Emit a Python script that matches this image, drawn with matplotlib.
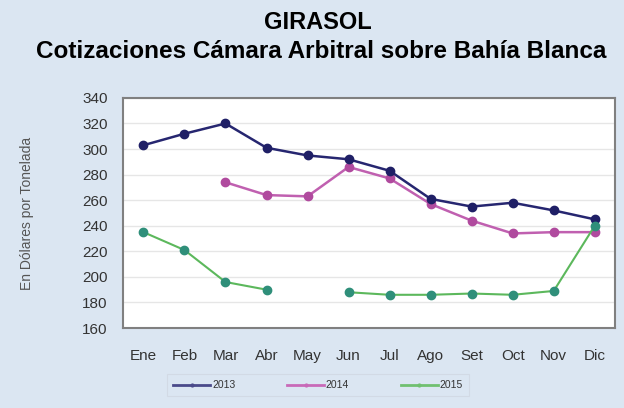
import numpy as np
import matplotlib
matplotlib.use("Agg")
import matplotlib.pyplot as plt
from matplotlib.lines import Line2D

months = ["Ene", "Feb", "Mar", "Abr", "May", "Jun", "Jul", "Ago", "Set", "Oct", "Nov", "Dic"]
s2013 = [303, 312, 320, 301, 295, 292, 283, 261, 255, 258, 252, 245]
s2014 = [np.nan, np.nan, 274, 264, 263, 286, 277, 257, 244, 234, 235, 235]
s2015 = [235, 221, 196, 190, np.nan, 188, 186, 186, 187, 186, 189, 240]
yticks = [160, 180, 200, 220, 240, 260, 280, 300, 320, 340]

plt.rcParams['font.family'] = ['Liberation Sans', 'DejaVu Sans']

bg = "#dbe6f2"
fig = plt.figure(figsize=(6.24, 4.08), dpi=100, facecolor=bg)
ax = fig.add_axes([0.197, 0.196, 0.789, 0.564])
ax.set_facecolor("white")

x = np.arange(len(months))
ax.plot(x, s2013, color="#262670", lw=1.8, marker="o", ms=6,
        mfc="#1f1f66", mec="#1f1f66", label="2013", zorder=3)
ax.plot(x, s2014, color="#c060b0", lw=1.8, marker="o", ms=6,
        mfc="#b04a9e", mec="#b04a9e", label="2014", zorder=2)
ax.plot(x, s2015, color="#5cb85c", lw=1.5, marker="o", ms=6,
        mfc="#2f8f7a", mec="#2f8f7a", label="2015", zorder=4)

ax.set_xlim(-0.5, 11.5)
ax.set_ylim(160, 340)
ax.set_yticks(yticks)
ax.set_xticks(x)
ax.set_xticklabels(months)
ax.grid(axis="y", color="#e6e6e6", lw=1)
ax.set_axisbelow(True)
for sp in ax.spines.values():
    sp.set_color("#808080")
    sp.set_linewidth(1.5)
ax.tick_params(length=0, labelsize=11, colors="#333333")
ax.tick_params(axis="y", pad=11)
ax.tick_params(axis="x", pad=15)
ax.set_ylabel("En Dólares por Tonelada", fontsize=10, color="#555555", labelpad=35)

fig.text(0.51, 0.946, "GIRASOL", ha="center", va="center",
         fontsize=17, fontweight="bold", color="black")
fig.text(0.515, 0.873, "Cotizaciones Cámara Arbitral sobre Bahía Blanca", ha="center",
         va="center", fontsize=17.5, fontweight="bold", color="black")

handles = [Line2D([], [], color=c, lw=2, marker="o", ms=2, mfc=c, mec=c)
           for c in ["#4a4a8a", "#c86ab8", "#70c070"]]
leg = fig.legend(handles, ["2013", "2014", "2015"], loc="center",
                 bbox_to_anchor=(0.51, 0.056), ncol=3, frameon=True,
                 fontsize=7.5, handlelength=3.5, columnspacing=5.0, handletextpad=0.2,
                 borderpad=0.6)
leg.get_frame().set_facecolor(bg)
leg.get_frame().set_edgecolor("#d0d8e2")
leg.get_frame().set_linewidth(0.8)
leg.get_frame().set_boxstyle("square", pad=0)
for t in leg.get_texts():
    t.set_color("#333333")

fig.savefig("out.png", dpi=100, facecolor=bg)
